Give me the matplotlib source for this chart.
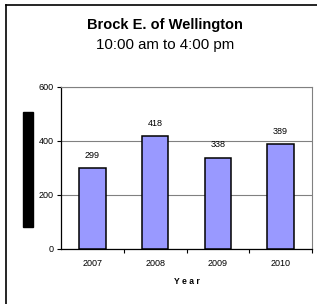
import matplotlib.pyplot as plt
from matplotlib.lines import Line2D
from matplotlib.patches import Rectangle
import numpy as np

plt.rcParams['font.family'] = ['Liberation Sans', 'DejaVu Sans']

years = ['2007', '2008', '2009', '2010']
visitors = [299, 418, 338, 389]
y_ticks = [0, 200, 400, 600]

fig = plt.figure(figsize=(3.17, 3.04), dpi=100)
ax = fig.add_axes([61/317, 1 - 249/304, 251/317, 162/304])

x = np.arange(len(years))
bars = ax.bar(x, visitors, width=0.42, color='#9999FF', edgecolor='black',
              linewidth=1.1, zorder=3)

for xi, v in zip(x, visitors):
    ax.annotate(str(v), (xi, v), xytext=(0, 6), textcoords='offset points',
                ha='center', va='bottom', fontsize=6.5)

ax.set_xlim(-0.5, len(years) - 0.5)
ax.set_ylim(0, 600)
ax.set_yticks(y_ticks)
ax.set_xticks(x)
ax.set_xticklabels(years)
ax.set_xticks(x + 0.5, minor=True)
ax.tick_params(axis='x', which='major', length=0, labelsize=6.5, pad=7)
ax.tick_params(axis='x', which='minor', length=3, width=0.8, direction='out')
ax.tick_params(axis='y', length=3, width=0.8, labelsize=6.5, pad=2)

ax.yaxis.grid(True, color='#808080', linewidth=0.8, zorder=0)
ax.spines['left'].set_color('black')
ax.spines['bottom'].set_color('black')
ax.spines['top'].set_color('#808080')
ax.spines['right'].set_color('#808080')
ax.spines['left'].set_linewidth(0.9)
ax.spines['bottom'].set_linewidth(0.9)
ax.spines['top'].set_linewidth(0.8)
ax.spines['right'].set_linewidth(0.8)

ax.set_xlabel('Y e a r', fontsize=6.2, fontweight='bold', labelpad=7)

fig.text(165/317, 1 - 25/304, 'Brock E. of Wellington', ha='center',
         va='center', fontsize=10.5, fontweight='bold')
fig.text(165/317, 1 - 45/304, '10:00 am to 4:00 pm', ha='center',
         va='center', fontsize=10.8)

# y axis title box
fig.patches.append(Rectangle((23/317, 1 - 227/304), 10/317, 115/304,
                             transform=fig.transFigure, color='black'))

# outer frame (left and top edges)
fig.lines.append(Line2D([6/317, 6/317], [0, 1 - 5/304],
                        transform=fig.transFigure, color='black', linewidth=1.2))
fig.lines.append(Line2D([6/317, 1], [1 - 5/304, 1 - 5/304],
                        transform=fig.transFigure, color='black', linewidth=1.2))

fig.savefig('out.png', dpi=100)
